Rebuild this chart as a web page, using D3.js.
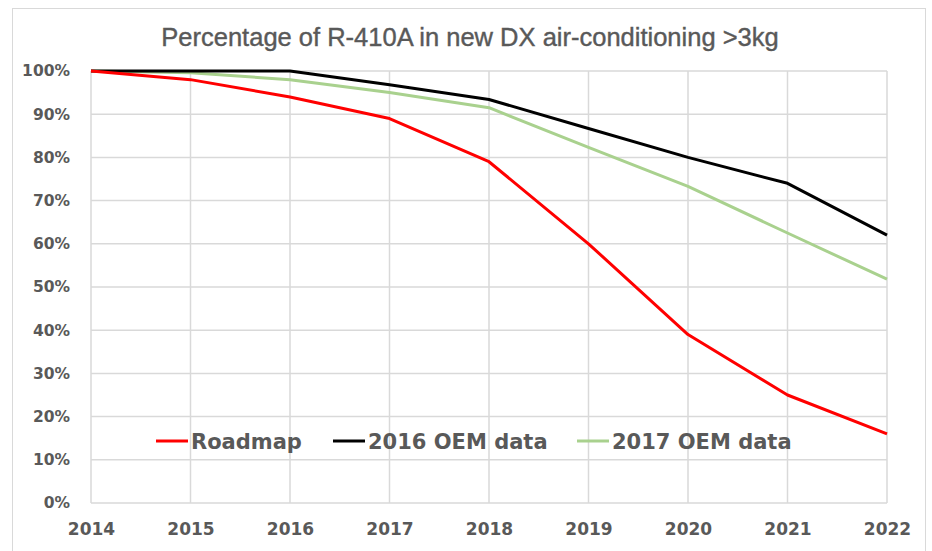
<!DOCTYPE html>
<html>
<head>
<meta charset="utf-8">
<script src="https://cdn.jsdelivr.net/npm/d3@7"></script>
<style>
  body { margin: 0; background: #fff; }
  svg { display: block; }
</style>
</head>
<body>
<div id="chart"></div>
<script>
// data
var years = [2014, 2015, 2016, 2017, 2018, 2019, 2020, 2021, 2022];
var roadmap = [100, 98, 94, 89, 79, 60, 39, 25, 16];
var oem2016 = [100, 100, 100, 96.8, 93.4, 86.7, 80, 74, 62];
var oem2017 = [100, 99.6, 98, 95, 91.5, 82.3, 73.3, 62.5, 51.8];
var yTicks = [0, 10, 20, 30, 40, 50, 60, 70, 80, 90, 100];
var seriesNames = ['Roadmap', '2016 OEM data', '2017 OEM data'];
var seriesColors = ['#ff0000', '#000000', '#a9d18e'];

var W = 932, H = 551;
var m = {left: 91, right: 45, top: 71, bottom: 48};

var svg = d3.select('#chart').append('svg')
    .attr('width', W)
    .attr('height', H);

// chart area border
svg.append('rect')
    .attr('x', 12.5).attr('y', 8.5)
    .attr('width', 913).attr('height', 600)
    .attr('fill', '#fff')
    .attr('stroke', '#d9d9d9')
    .attr('stroke-width', 1);

var x = d3.scaleLinear()
    .domain([years[0], years[years.length - 1]])
    .range([m.left, W - m.right]);

var y = d3.scaleLinear()
    .domain([0, 100])
    .range([H - m.bottom, m.top]);

var grid = svg.append('g');
grid.selectAll('line.h').data(yTicks).enter().append('line')
    .attr('x1', x(2014)).attr('x2', x(2022))
    .attr('y1', function(d) { return y(d); })
    .attr('y2', function(d) { return y(d); })
    .attr('stroke', '#d9d9d9').attr('stroke-width', 1.5);
grid.selectAll('line.v').data(years).enter().append('line')
    .attr('y1', y(0)).attr('y2', y(100))
    .attr('x1', function(d) { return x(d); })
    .attr('x2', function(d) { return x(d); })
    .attr('stroke', '#d9d9d9').attr('stroke-width', 1.5);

var yAxis = svg.append('g')
    .attr('transform', 'translate(' + x(2014) + ',0)')
    .call(d3.axisLeft(y).tickValues(yTicks).tickSize(0).tickPadding(21)
        .tickFormat(function(d) { return d + '%'; }));
var xAxis = svg.append('g')
    .attr('transform', 'translate(0,' + y(0) + ')')
    .call(d3.axisBottom(x).tickValues(years).tickSize(0).tickPadding(20)
        .tickFormat(d3.format('d')));

[xAxis, yAxis].forEach(function(a) {
  a.select('.domain').remove();
  a.selectAll('text')
      .attr('fill', '#595959')
      .style('font-family', 'DejaVu Sans, sans-serif')
      .style('font-weight', 'bold');
});
yAxis.selectAll('text').style('font-size', '15.5px');
xAxis.selectAll('text').style('font-size', '17px');

var line = d3.line()
    .x(function(d, i) { return x(years[i]); })
    .y(function(d) { return y(d); });

[oem2017, oem2016, roadmap].forEach(function(s) {
  var idx = s === roadmap ? 0 : (s === oem2016 ? 1 : 2);
  svg.append('path')
      .datum(s)
      .attr('d', line)
      .attr('fill', 'none')
      .attr('stroke', seriesColors[idx])
      .attr('stroke-width', 3)
      .attr('stroke-linejoin', 'round');
});

// legend
var legX = [156, 333, 577];
var legend = svg.append('g').attr('transform', 'translate(0,441)');
seriesNames.forEach(function(n, i) {
  legend.append('line')
      .attr('x1', legX[i]).attr('x2', legX[i] + 32)
      .attr('stroke', seriesColors[i]).attr('stroke-width', 3);
  legend.append('text')
      .attr('x', legX[i] + 35).attr('y', 8)
      .attr('fill', '#595959')
      .style('font-family', 'DejaVu Sans, sans-serif')
      .style('font-weight', 'bold')
      .style('font-size', '21px')
      .text(n);
});

svg.append('text')
    .attr('x', 470).attr('y', 46)
    .attr('text-anchor', 'middle')
    .attr('fill', '#595959')
    .style('font-family', 'Liberation Sans Narrow, sans-serif')
    .style('font-size', '25.5px')
    .style('font-weight', '500')
    .style('stroke', '#595959')
    .style('stroke-width', '0.4px')
    .text('Percentage of R-410A in new DX air-conditioning >3kg');
</script>
</body>
</html>
